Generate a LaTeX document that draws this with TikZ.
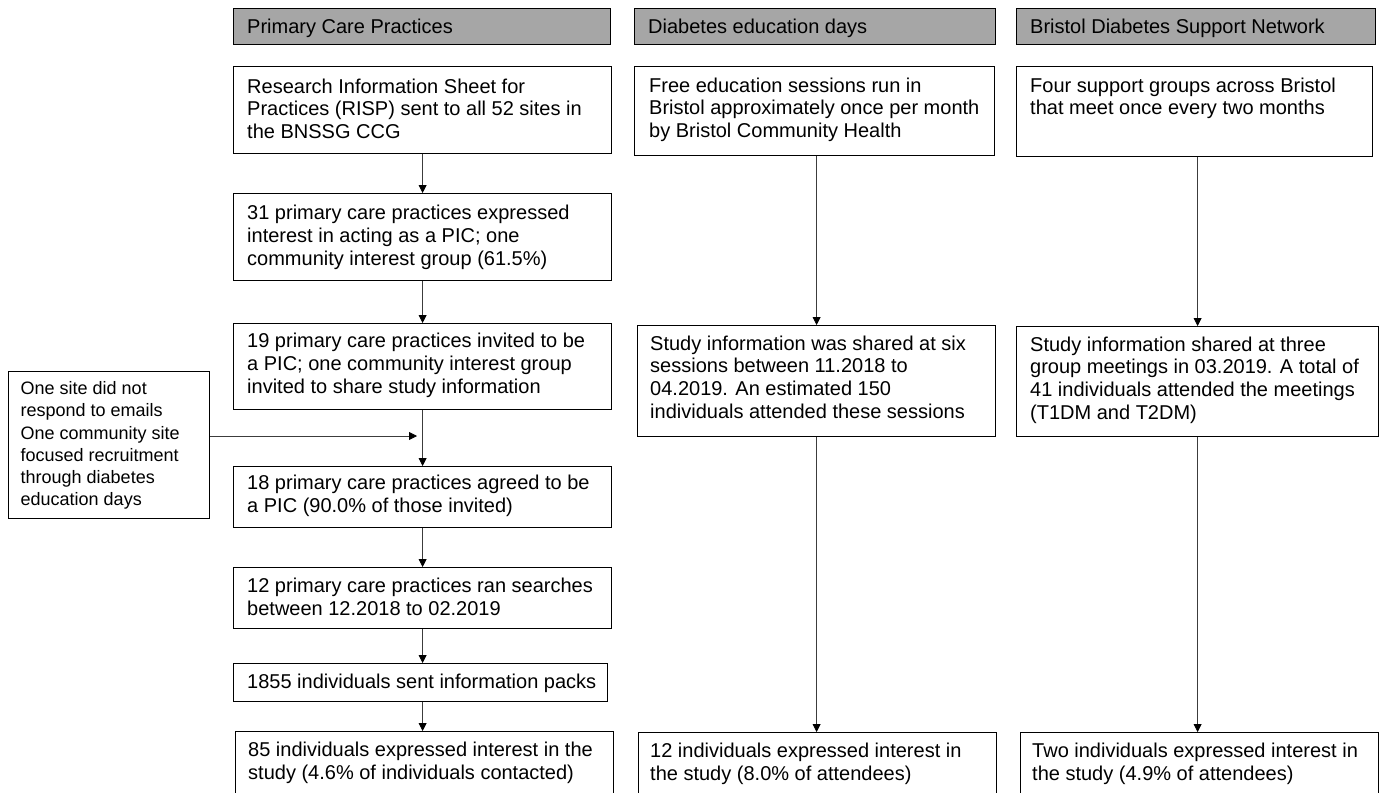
\documentclass[tikz,border=0pt]{standalone}
\usepackage{fontspec}
\setmainfont{Liberation Sans}
\usetikzlibrary{arrows.meta,calc}
\definecolor{hdrgray}{RGB}{166,166,166}
\definecolor{linegray}{RGB}{60,60,60}
\begin{document}
\begin{tikzpicture}[x=1pt,y=-1pt,
  box/.style={draw=black, line width=1.2pt, fill=white, anchor=north west, inner sep=0pt},
  hdr/.style={box, fill=hdrgray},
  txt/.style={anchor=north west, inner sep=0pt, align=left, font=\fontsize{20}{22.8}\selectfont},
  stxt/.style={anchor=north west, inner sep=0pt, align=left, font=\fontsize{18}{22.2}\selectfont},
  htxt/.style={anchor=base west, inner sep=0pt, font=\fontsize{20}{22.5}\selectfont},
  arr/.style={draw=linegray, line width=0.8pt, -{Triangle[width=8pt,length=8pt,color=black]}}]
\useasboundingbox (0,0) rectangle (1380,792);

% headers
\node[hdr, minimum width=377pt, minimum height=36pt] (h1) at (233,8) {};
\node[htxt] (h1t) at ([xshift=14pt,yshift=-26pt]h1.north west) {Primary Care Practices};
\node[hdr, minimum width=361pt, minimum height=36pt] (h2) at (634,8) {};
\node[htxt] (h2t) at ([xshift=14pt,yshift=-26pt]h2.north west) {Diabetes education days};
\node[hdr, minimum width=359pt, minimum height=36pt] (h3) at (1016,8) {};
\node[htxt] (h3t) at ([xshift=14pt,yshift=-26pt]h3.north west) {Bristol Diabetes Support Network};

% column 1
\node[box, minimum width=378pt, minimum height=87pt] (c1b1) at (233,66) {};
\node[txt] (c1b1t) at ([xshift=14pt,yshift=-11pt]c1b1.north west) {\strut Research Information Sheet for\\Practices (RISP) sent to all 52 sites in\\the BNSSG CCG};
\node[box, minimum width=378pt, minimum height=87pt] (c1b2) at (233,193) {};
\node[txt] (c1b2t) at ([xshift=14pt,yshift=-10.5pt]c1b2.north west) {\strut 31 primary care practices expressed\\interest in acting as a PIC; one\\community interest group (61.5\%)};
\node[box, minimum width=378pt, minimum height=86pt] (c1b3) at (233,323) {};
\node[txt] (c1b3t) at ([xshift=14pt,yshift=-8.5pt]c1b3.north west) {\strut 19 primary care practices invited to be\\a PIC; one community interest group\\invited to share study information};
\node[box, minimum width=378pt, minimum height=61pt] (c1b4) at (233,466) {};
\node[txt] (c1b4t) at ([xshift=14pt,yshift=-7.5pt]c1b4.north west) {\strut 18 primary care practices agreed to be\\a PIC (90.0\% of those invited)};
\node[box, minimum width=378pt, minimum height=61pt] (c1b5) at (233,567) {};
\node[txt] (c1b5t) at ([xshift=14pt,yshift=-9.5pt]c1b5.north west) {\strut 12 primary care practices ran searches\\between 12.2018 to 02.2019};
\node[box, minimum width=374pt, minimum height=38pt] (c1b6) at (233,663) {};
\node[txt] (c1b6t) at ([xshift=14pt,yshift=-9pt]c1b6.north west) {\strut 1855 individuals sent information packs};
\node[box, minimum width=378pt, minimum height=70pt] (c1b7) at (235,731) {};
\node[txt] (c1b7t) at ([xshift=13pt,yshift=-9.5pt]c1b7.north west) {\strut 85 individuals expressed interest in the\\study (4.6\% of individuals contacted)};

% side box
\node[box, minimum width=201pt, minimum height=147pt] (side) at (8,371) {};
\node[stxt] (sidet) at ([xshift=12.5pt,yshift=-8pt]side.north west) {\strut One site did not\\respond to emails\\One community site\\focused recruitment\\through diabetes\\education days};

% column 2
\node[box, minimum width=360pt, minimum height=89pt] (c2b1) at (634,66) {};
\node[txt] (c2b1t) at ([xshift=15pt,yshift=-10pt]c2b1.north west) {\strut Free education sessions run in\\Bristol approximately once per month\\by Bristol Community Health};
\node[box, minimum width=358pt, minimum height=111pt] (c2b2) at (637,325) {};
\node[txt] (c2b2t) at ([xshift=13pt,yshift=-9pt]c2b2.north west) {\strut Study information was shared at six\\sessions between 11.2018 to\\04.2019. An estimated 150\\individuals attended these sessions};
\node[box, minimum width=358pt, minimum height=70pt] (c2b3) at (638,732) {};
\node[txt] (c2b3t) at ([xshift=12pt,yshift=-9.5pt]c2b3.north west) {\strut 12 individuals expressed interest in\\the study (8.0\% of attendees)};

% column 3
\node[box, minimum width=356pt, minimum height=90pt] (c3b1) at (1016,66) {};
\node[txt] (c3b1t) at ([xshift=14pt,yshift=-10pt]c3b1.north west) {\strut Four support groups across Bristol\\that meet once every two months};
\node[box, minimum width=362pt, minimum height=110pt] (c3b2) at (1016,326) {};
\node[txt] (c3b2t) at ([xshift=14pt,yshift=-9pt]c3b2.north west) {\strut Study information shared at three\\group meetings in 03.2019. A total of\\41 individuals attended the meetings\\(T1DM and T2DM)};
\node[box, minimum width=358pt, minimum height=70pt] (c3b3) at (1020,732) {};
\node[txt] (c3b3t) at ([xshift=12pt,yshift=-9.5pt]c3b3.north west) {\strut Two individuals expressed interest in\\the study (4.9\% of attendees)};

% connectors column 1
\draw[arr] (c1b1.south) -- (c1b1.south |- c1b2.north);
\draw[arr] (c1b2.south) -- (c1b2.south |- c1b3.north);
\draw[arr] (c1b3.south) -- (c1b3.south |- c1b4.north);
\draw[arr] (c1b4.south) -- (c1b4.south |- c1b5.north);
\draw[arr] (c1b5.south) -- (c1b5.south |- c1b6.north);
\draw[arr] ([xshift=2pt]c1b6.south) -- ([xshift=2pt]c1b6.south |- c1b7.north);
\coordinate (sidetip) at (417,436);
\draw[arr] (side.east |- sidetip) -- (sidetip);

% connectors column 2
\draw[arr] (c2b2.north |- c2b1.south) -- (c2b2.north);
\draw[arr] (c2b2.south) -- (c2b2.south |- c2b3.north);

% connectors column 3
\draw[arr] (c3b2.north |- c3b1.south) -- (c3b2.north);
\draw[arr] (c3b2.south) -- (c3b2.south |- c3b3.north);
\end{tikzpicture}
\end{document}
